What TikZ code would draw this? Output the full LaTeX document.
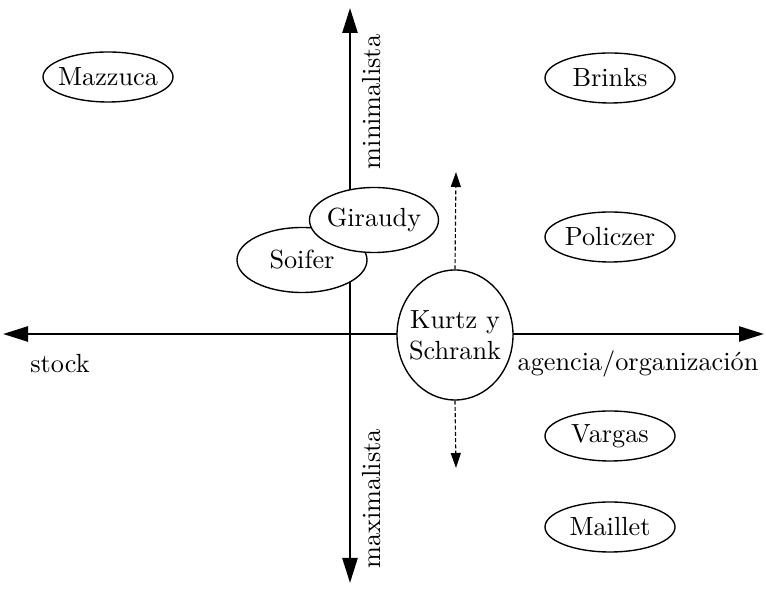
\documentclass[tikz,border=0pt]{standalone}
\usetikzlibrary{arrows.meta,shapes.geometric}

\begin{document}
\begin{tikzpicture}
          [x=0.4pt,y=-0.4pt,every node/.style={font=\fontsize{10.5}{12.5}\selectfont},
           author/.style={draw,shape=ellipse,fill=white,inner xsep=-6pt,inner ysep=-3pt,line width=0.55pt,
                          minimum width=52pt,minimum height=20pt},
           axis/.style={line width=1pt,{Triangle[length=10pt,width=6pt]}-{Triangle[length=10pt,width=6pt]}},
           drift/.style={dash pattern=on 1.6pt off 0.9pt,line width=0.45pt,-{Triangle[length=6pt,width=4pt]}}]

          \useasboundingbox (0,0) rectangle (766,590);

          \coordinate (W) at (3,334);
          \coordinate (E) at (764,334);
          \coordinate (N) at (350,8);
          \coordinate (S) at (350,583);
          \coordinate (up) at (456,172);
          \coordinate (down) at (456,468);

          \draw[axis] (W) -- (E);
          \draw[axis] (S) -- (N);

          \node (stock) at (60,364) {stock};
          \node (agencia) at (638,364) {agencia/organizaci\'on};
          \node[rotate=90] (mini) at (372,102) {minimalista};
          \node[rotate=90] (maxi) at (372,499) {maximalista};

          \node[author] (mazzuca) at (108,77) {Mazzuca};
          \node[author] (brinks) at (610,78) {Brinks};
          \node[author] (policzer) at (610,237) {Policzer};
          \node[author] (vargas) at (610,436) {Vargas};
          \node[author] (maillet) at (610,527) {Maillet};
          \node[author,minimum width=52pt,minimum height=26pt] (soifer) at (302,260) {Soifer};
          \node[author,minimum width=51.6pt,minimum height=26pt] (giraudy) at (374,220) {Giraudy};
          \node[author,minimum width=46.4pt,minimum height=52pt,align=center] (kurtz) at (455,335) {Kurtz y\\Schrank};

          \draw[drift] (kurtz.north) -- (up);
          \draw[drift] (kurtz.south) -- (down);
        \end{tikzpicture}
\end{document}
